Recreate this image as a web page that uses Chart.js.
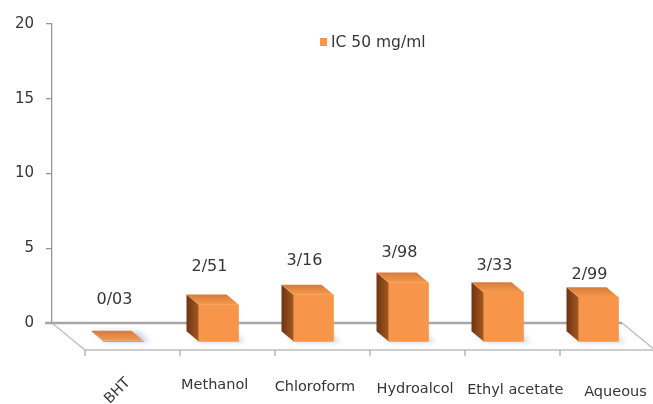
<!DOCTYPE html>
<html>
<head>
<meta charset="utf-8">
<script src="https://cdn.jsdelivr.net/npm/chart.js@4/dist/chart.umd.min.js"></script>
<style>
  html, body { margin: 0; padding: 0; background: #ffffff; }
  #wrap { width: 653px; height: 404px; }
</style>
</head>
<body>
<div id="wrap"><canvas id="c" width="653" height="404"></canvas></div>
<script>
// IC50 of the extracts, in mg/ml
const categories = ['BHT', 'Methanol', 'Chloroform', 'Hydroalcol', 'Ethyl acetate', 'Aqueous'];
const ic50 = [0.03, 2.51, 3.16, 3.98, 3.33, 2.99];
const yTicks = [0, 5, 10, 15, 20];
const seriesName = 'IC 50 mg/ml';

// oblique "3D" geometry: floor depth, bar front plane and bar depth
const FLOOR = { dx: 33, dy: 27 };
const FRONT = { dx: 24, dy: 19 };
const DEPTH = { dx: 12, dy: 10 };
const TEXT = '#363636';
const FONT = '"DejaVu Sans", Verdana, sans-serif';

// decimal values written with "/" as the separator
const fmt = v => v.toFixed(2).replace('.', '/');

const box3d = {
  id: 'box3d',
  beforeDatasetsDraw(chart) {
    const ctx = chart.ctx;
    const x = chart.scales.x, y = chart.scales.y;
    const L = chart.chartArea.left, R = chart.chartArea.right;
    const B = y.getPixelForValue(0);

    // floor slab
    ctx.save();
    ctx.beginPath();
    ctx.moveTo(L, B);
    ctx.lineTo(R, B);
    ctx.lineTo(R + FLOOR.dx, B + FLOOR.dy);
    ctx.lineTo(L + FLOOR.dx, B + FLOOR.dy);
    ctx.closePath();
    ctx.fillStyle = '#ffffff';
    ctx.fill();
    ctx.strokeStyle = '#bebebe';
    ctx.lineWidth = 1.3;
    ctx.stroke();
    // back edge of the floor (value 0), with its tick to the left of the axis
    ctx.beginPath();
    ctx.moveTo(L - 7, B);
    ctx.lineTo(R, B);
    ctx.strokeStyle = '#a6a6a6';
    ctx.lineWidth = 2.6;
    ctx.stroke();
    // category ticks along the front edge
    const step = (R - L) / categories.length;
    ctx.beginPath();
    for (let k = 0; k <= categories.length; k++) {
      const fx = L + k * step + FLOOR.dx;
      ctx.moveTo(fx, B + FLOOR.dy);
      ctx.lineTo(fx, B + FLOOR.dy + 6);
    }
    ctx.strokeStyle = '#adadad';
    ctx.lineWidth = 1.3;
    ctx.stroke();

    // soft shadows cast on the floor
    const meta = chart.getDatasetMeta(0);
    ctx.filter = 'blur(2.5px)';
    ctx.fillStyle = 'rgba(110,130,165,0.35)';
    meta.data.forEach(bar => {
      const xl = bar.x - bar.width / 2 + FRONT.dx, xr = bar.x + bar.width / 2 + FRONT.dx;
      const yb = bar.base + FRONT.dy;
      ctx.beginPath();
      ctx.moveTo(xl + 2, yb + 1);
      ctx.lineTo(xr + 7, yb + 1);
      ctx.lineTo(xr + 7 - DEPTH.dx, yb - DEPTH.dy);
      ctx.lineTo(xl + 2 - DEPTH.dx, yb - DEPTH.dy);
      ctx.closePath();
      ctx.fill();
    });
    ctx.filter = 'none';
    ctx.restore();

    // the library draws the bar fronts on the front plane
    ctx.save();
    ctx.translate(FRONT.dx, FRONT.dy);
  },
  afterDatasetsDraw(chart) {
    const ctx = chart.ctx;
    const meta = chart.getDatasetMeta(0);
    // side and top faces of each bar
    meta.data.forEach(bar => {
      const xl = bar.x - bar.width / 2, xr = bar.x + bar.width / 2;
      const yt = Math.min(bar.y, bar.base - 0.6), yb = bar.base;
      // left side
      const gs = ctx.createLinearGradient(xl - DEPTH.dx, 0, xl, 0);
      gs.addColorStop(0, '#6e3412');
      gs.addColorStop(1, '#a4581f');
      ctx.beginPath();
      ctx.moveTo(xl, yt);
      ctx.lineTo(xl - DEPTH.dx, yt - DEPTH.dy);
      ctx.lineTo(xl - DEPTH.dx, yb - DEPTH.dy);
      ctx.lineTo(xl, yb);
      ctx.closePath();
      ctx.fillStyle = gs;
      ctx.fill();
      // top
      const gt = ctx.createLinearGradient(0, yt - DEPTH.dy, 0, yt);
      gt.addColorStop(0, '#d9793a');
      gt.addColorStop(1, '#f49a4e');
      ctx.beginPath();
      ctx.moveTo(xl, yt);
      ctx.lineTo(xr, yt);
      ctx.lineTo(xr - DEPTH.dx, yt - DEPTH.dy);
      ctx.lineTo(xl - DEPTH.dx, yt - DEPTH.dy);
      ctx.closePath();
      ctx.fillStyle = gt;
      ctx.fill();
    });
    ctx.restore();

    const x = chart.scales.x, y = chart.scales.y;
    const B = y.getPixelForValue(0);

    // value labels above the bars
    ctx.save();
    ctx.fillStyle = TEXT;
    ctx.font = '16px ' + FONT;
    ctx.textAlign = 'center';
    ctx.textBaseline = 'middle';
    ic50.forEach((v, i) => {
      const lx = x.getPixelForValue(i) + 15;
      const ly = y.getPixelForValue(v) + FRONT.dy - DEPTH.dy - (32 - 4 * i);
      ctx.fillText(fmt(v), lx, ly);
    });

    // category labels under the front edge
    ctx.font = '14.5px ' + FONT;
    categories.forEach((c, i) => {
      const cx = x.getPixelForValue(i) + FLOOR.dx - 18 + 5.2 * i;
      if (i === 0) {
        ctx.save();
        ctx.translate(cx + 3, B + FLOOR.dy + 41);
        ctx.rotate(-Math.PI / 4);
        ctx.fillText(c, 0, 0);
        ctx.restore();
      } else {
        ctx.fillText(c, cx, B + FLOOR.dy + 34 + 1.6 * i);
      }
    });

    // legend
    const ds = chart.data.datasets[0];
    ctx.fillStyle = ds.backgroundColor;
    ctx.fillRect(320, 38, 7, 8);
    ctx.fillStyle = TEXT;
    ctx.font = '15.5px ' + FONT;
    ctx.textAlign = 'left';
    ctx.fillText(ds.label, 331, 43);
    ctx.restore();
  }
};

new Chart(document.getElementById('c'), {
  type: 'bar',
  data: {
    labels: categories,
    datasets: [{
      label: seriesName,
      data: ic50,
      backgroundColor: '#f7964a',
      borderWidth: 0,
      barThickness: 40,
      clip: false
    }]
  },
  options: {
    responsive: false,
    animation: false,
    devicePixelRatio: 1,
    layout: { padding: { left: 0, right: 31, top: 24, bottom: 81 } },
    plugins: {
      legend: { display: false },
      tooltip: { enabled: false }
    },
    scales: {
      x: {
        type: 'category',
        display: false,
        offset: true
      },
      y: {
        min: yTicks[0],
        max: yTicks[yTicks.length - 1],
        afterBuildTicks: s => { s.ticks = yTicks.map(v => ({ value: v })); },
        afterFit: s => { s.width = 52; },
        border: { display: true, color: '#969696', width: 1.3 },
        grid: { drawOnChartArea: false, drawTicks: true, tickLength: 6, color: '#969696', lineWidth: 1.3 },
        ticks: { color: TEXT, font: { family: FONT, size: 15 }, padding: 12 }
      }
    }
  },
  plugins: [box3d]
});
</script>
</body>
</html>
